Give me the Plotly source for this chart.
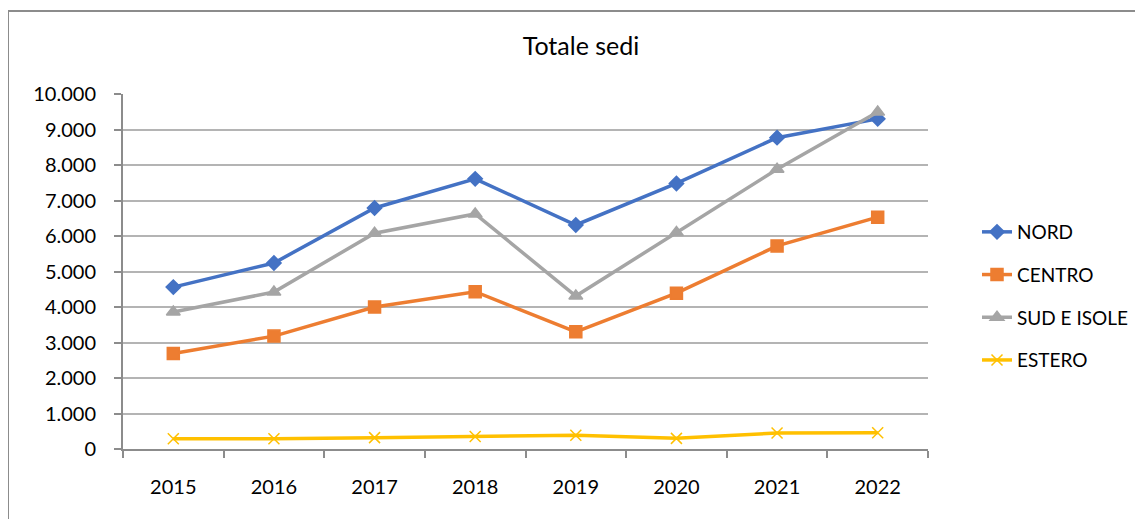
import plotly.graph_objects as go

years = ["2015", "2016", "2017", "2018", "2019", "2020", "2021", "2022"]
nord = [4560, 5240, 6790, 7610, 6310, 7480, 8770, 9300]
centro = [2690, 3180, 4000, 4430, 3300, 4390, 5720, 6530]
sud_isole = [3860, 4420, 6080, 6620, 4310, 6100, 7880, 9490]
estero = [290, 290, 320, 350, 390, 300, 450, 460]
y_ticks = [0, 1000, 2000, 3000, 4000, 5000, 6000, 7000, 8000, 9000, 10000]

FONT = "Lato, Carlito, Liberation Sans, sans-serif"

series = [
    ("NORD", nord, "#4472C4", "diamond", 11),
    ("CENTRO", centro, "#ED7D31", "square", 12),
    ("SUD E ISOLE", sud_isole, "#A5A5A5", "triangle-up", 12),
    ("ESTERO", estero, "#FFC000", "x-thin-open", 11),
]

fig = go.Figure()
for i, (name, vals, col, sym, sz) in enumerate(series):
    fig.add_trace(go.Scatter(
        x=years, y=vals, name=name, mode="lines+markers",
        line=dict(color=col, width=3.5),
        marker=dict(symbol=sym, size=sz, color=col,
                    line=dict(color=col, width=1.5)),
        legendgroup=f"g{i}",
    ))

# page offset (body margin) of 8px is compensated in the margins
OFF = 8
L, T = 123 - OFF, 94 - OFF
R_EDGE, B_EDGE = 928 - OFF, 449 - OFF
W, H = 1143, 519
PW, PH = R_EDGE - L, B_EDGE - T

fig.update_layout(
    width=W, height=H,
    margin=dict(l=L, r=W - R_EDGE, t=T, b=H - B_EDGE),
    paper_bgcolor="white", plot_bgcolor="white",
    separators=",.",
    font=dict(family=FONT, size=20, color="#000000"),
    title=dict(text="Totale sedi", x=(581 - OFF) / W, xanchor="center",
               y=1 - (46 - OFF) / H, yanchor="middle",
               font=dict(family=FONT, size=25, color="#000000")),
    showlegend=True,
    legend=dict(x=(977 - OFF - L) / PW, xanchor="left",
                y=(B_EDGE - (213 - OFF)) / PH, yanchor="top",
                font=dict(family=FONT, size=19, color="#000000"),
                tracegroupgap=15, bgcolor="rgba(0,0,0,0)",
                itemwidth=30),
    xaxis=dict(type="category", range=[-0.5, 7.5],
               showline=True, linecolor="#8c8c8c", linewidth=2,
               ticks="outside", tickson="boundaries", ticklen=7,
               tickcolor="#8c8c8c", tickwidth=1.5,
               showgrid=False, ticklabelstandoff=19,
               tickfont=dict(family=FONT, size=20, color="#000000")),
    yaxis=dict(range=[0, 10000], tickvals=y_ticks, tickformat=",d",
               showline=True, linecolor="#8c8c8c", linewidth=2,
               ticks="outside", ticklen=7, tickcolor="#8c8c8c", tickwidth=1.5,
               showgrid=True, gridcolor="#b4b4b4", gridwidth=1.5,
               zeroline=False, ticklabelstandoff=14,
               tickfont=dict(family=FONT, size=20, color="#000000")),
)

# Outer chart frame (top and left edges visible)
fx = (8 - OFF - L) / PW
fy = (B_EDGE - (11 - OFF)) / PH
fig.add_shape(type="line", xref="paper", yref="paper",
              x0=fx, x1=(W - L) / PW + 0.02, y0=fy, y1=fy,
              line=dict(color="#8c8c8c", width=2))
fig.add_shape(type="line", xref="paper", yref="paper",
              x0=fx, x1=fx, y0=fy, y1=(B_EDGE - H - 10) / PH,
              line=dict(color="#8c8c8c", width=2))

fig.write_html("out.html")
